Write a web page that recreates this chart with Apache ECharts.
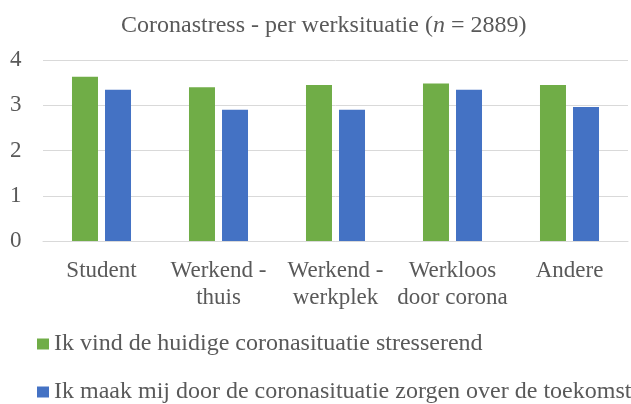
<!DOCTYPE html>
<html>
<head>
<meta charset="utf-8">
<script src="https://cdn.jsdelivr.net/npm/echarts@6/dist/echarts.min.js"></script>
<style>
  html, body { margin: 0; padding: 0; background: #fff; }
  #main { width: 631px; height: 404px; }
</style>
</head>
<body>
<div id="main"></div>
<script>
const categories = ['Student', 'Werkend -\nthuis', 'Werkend -\nwerkplek', 'Werkloos\ndoor corona', 'Andere']
const stressValues = [3.63, 3.40, 3.45, 3.48, 3.45]
const zorgenValues = [3.34, 2.90, 2.90, 3.34, 2.96]
const seriesNames = [
    'Ik vind de huidige coronasituatie stresserend',
    'Ik maak mij door de coronasituatie zorgen over de toekomst'
]

const font = 'Liberation Serif'
const textColor = '#595959'

// één legend per regel, zo staan ze netjes onder elkaar
const legendItem = (name, top) => ({
    data: [name],
    left: 37,
    top: top,
    padding: 0,
    itemWidth: 12,
    itemHeight: 11,
    icon: 'rect',
    textStyle: { fontFamily: font, fontSize: 24, color: textColor }
})

const chart = echarts.init(document.getElementById('main'))
chart.setOption({
    animation: false,
    title: {
        text: 'Coronastress - per werksituatie ({i|n} = 2889)',
        left: 116,
        top: 9,
        textStyle: {
            fontFamily: font, fontSize: 24, fontWeight: 'normal', color: textColor,
            rich: { i: { fontFamily: font, fontSize: 24, fontStyle: 'italic', color: textColor } }
        }
    },
    legend: [legendItem(seriesNames[0], 332), legendItem(seriesNames[1], 380)],
    grid: { left: 43, right: 3, top: 60, height: 181, containLabel: false },
    xAxis: {
        type: 'category',
        data: categories,
        axisLine: { lineStyle: { color: '#d9d9d9', width: 1 } },
        axisTick: { show: false },
        axisLabel: { interval: 0, fontFamily: font, fontSize: 23, color: textColor, lineHeight: 27, margin: 16 }
    },
    yAxis: {
        type: 'value',
        min: 0,
        max: 4,
        interval: 1,
        axisLabel: { fontFamily: font, fontSize: 23, color: textColor, margin: 33, align: 'left' },
        splitLine: { lineStyle: { color: '#d9d9d9', width: 1 } }
    },
    series: [
        { name: seriesNames[0], type: 'bar', data: stressValues, barWidth: 26, barGap: '27%', itemStyle: { color: '#70ad47' } },
        { name: seriesNames[1], type: 'bar', data: zorgenValues, barWidth: 26, barGap: '27%', itemStyle: { color: '#4472c4' } }
    ]
})
</script>
</body>
</html>
